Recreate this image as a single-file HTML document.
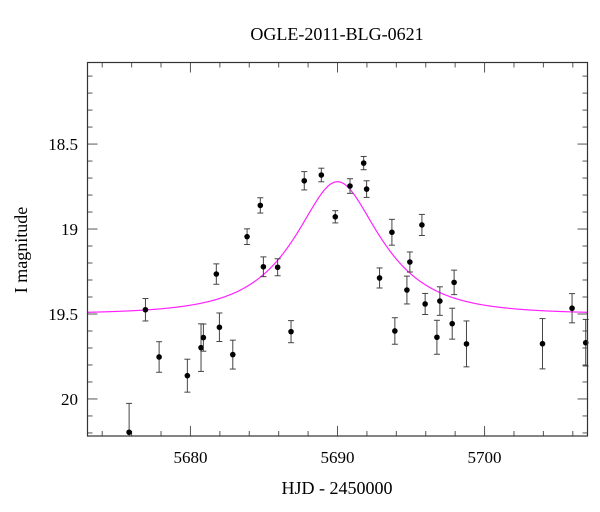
<!DOCTYPE html>
<html><head><meta charset="utf-8"><style>
html,body{margin:0;padding:0;background:#fff}
svg{display:block;font-family:"Liberation Serif",serif}
</style></head><body>
<svg id="chart" width="600" height="512" viewBox="0 0 600 512">
<text x="337" y="40" text-anchor="middle" font-size="18" fill="#000">OGLE-2011-BLG-0621</text>
<text x="337" y="494" text-anchor="middle" font-size="18" fill="#000">HJD - 2450000</text>
<text transform="translate(27,250) rotate(-90)" text-anchor="middle" font-size="18" fill="#000">I magnitude</text>
<g id="ticks"></g>
<g id="model"></g>
<g id="pts"></g>
<rect x="87.5" y="62.5" width="500" height="373.5" fill="none" stroke="#333" stroke-width="1.2"/>
</svg>
<script>
const hjd=[5675.83,5676.94,5677.87,5679.79,5680.72,5680.88,5681.76,5681.97,5682.88,5683.85,5684.75,5684.96,5685.93,5686.84,5687.74,5688.90,5689.85,5690.85,5691.78,5691.98,5692.86,5693.70,5693.90,5694.72,5694.92,5695.74,5695.96,5696.76,5696.96,5697.80,5697.93,5698.77,5703.94,5705.95,5706.88];
const mag=[20.196,19.475,19.753,19.863,19.698,19.639,19.265,19.578,19.739,19.045,18.861,19.222,19.225,19.604,18.716,18.682,18.928,18.747,18.612,18.765,19.288,19.019,19.60,19.359,19.194,18.976,19.441,19.637,19.424,19.557,19.314,19.676,19.675,19.466,19.669];
const magErr=[0.17,0.066,0.09,0.097,0.14,0.08,0.06,0.084,0.085,0.046,0.045,0.058,0.05,0.065,0.054,0.04,0.036,0.043,0.039,0.049,0.059,0.076,0.078,0.082,0.059,0.062,0.062,0.10,0.084,0.091,0.072,0.135,0.148,0.086,0.137];
const modelParams=[5690.0,0.54,4.8,19.5]; // t0, u0, tE, baseline
const xMajor=[5680,5690,5700];
const yMajor=[18.5,19,19.5,20];
const yLabels=["18.5","19","19.5","20"];

const X0=87.5,X1=587.5,Y0=62.5,Y1=436;
const tMin=5673,tMax=5707,mMin=18.02,mMax=20.218;
const sx=t=>X0+(t-tMin)/(tMax-tMin)*(X1-X0);
const sy=m=>Y0+(m-mMin)/(mMax-mMin)*(Y1-Y0);
const NS="http://www.w3.org/2000/svg";
function mk(tag,attrs,parent){const e=document.createElementNS(NS,tag);for(const k in attrs)e.setAttribute(k,attrs[k]);parent.appendChild(e);return e;}
const tk=document.getElementById('ticks');
for(let t=5674;t<=5706;t+=2){
  const x=sx(t), major=(t%10===0), L=major?10:5;
  let l=mk('line',{x1:x,x2:x,y1:Y1,y2:Y1-L,stroke:'#555','stroke-width':1},tk);
  
  
  let l2=mk('line',{x1:x,x2:x,y1:Y0,y2:Y0+L,stroke:'#555','stroke-width':1},tk);
  
  
}
xMajor.forEach(t=>{
  const tx=mk('text',{x:sx(t),y:463,'text-anchor':'middle','font-size':17,fill:'#000'},tk);
  tx.textContent=String(t);
  
  
});
for(let i=1;i<=22;i++){
  const m=18+i*0.1; const y=sy(m); if(y<Y0+1||y>Y1-1)continue;
  const major=(i%5===0), L=major?10:5;
  let l=mk('line',{x1:X0,x2:X0+L,y1:y,y2:y,stroke:'#555','stroke-width':1},tk);
  
  
  let l2=mk('line',{x1:X1,x2:X1-L,y1:y,y2:y,stroke:'#555','stroke-width':1},tk);
  
  
}
yMajor.forEach((m,i)=>{
  const tx=mk('text',{x:78,y:sy(m)+6,'text-anchor':'end','font-size':17,fill:'#000'},tk);
  tx.textContent=yLabels[i];
  
  
});
const [t0,u0,tE,base]=modelParams;
let d='';
for(let t=tMin;t<=tMax+0.001;t+=0.05){
  const u=Math.sqrt(u0*u0+((t-t0)/tE)**2);
  const A=(u*u+2)/(u*Math.sqrt(u*u+4));
  const m=base-2.5*Math.log10(A);
  d+=(d?'L':'M')+sx(t).toFixed(2)+','+sy(m).toFixed(2);
}
const mp=mk('path',{d:d,fill:'none',stroke:'#ff22ff','stroke-width':1.2},document.getElementById('model'));


const pg=document.getElementById('pts');
hjd.forEach((t,i)=>{
  const x=sx(t),y=sy(mag[i]);
  const yt=Math.max(Y0,sy(mag[i]-magErr[i])),yb=Math.min(Y1,sy(mag[i]+magErr[i]));
  const g=mk('g',{},pg);
  
  
  mk('line',{x1:x,x2:x,y1:yt,y2:yb,stroke:'#444','stroke-width':1},g);
  if(yt>Y0) mk('line',{x1:x-3,x2:x+3,y1:yt,y2:yt,stroke:'#444','stroke-width':1},g);
  if(yb<Y1) mk('line',{x1:x-3,x2:x+3,y1:yb,y2:yb,stroke:'#444','stroke-width':1},g);
  mk('circle',{cx:x,cy:y,r:2.8,fill:'#000'},g);
});
</script>
</body></html>
